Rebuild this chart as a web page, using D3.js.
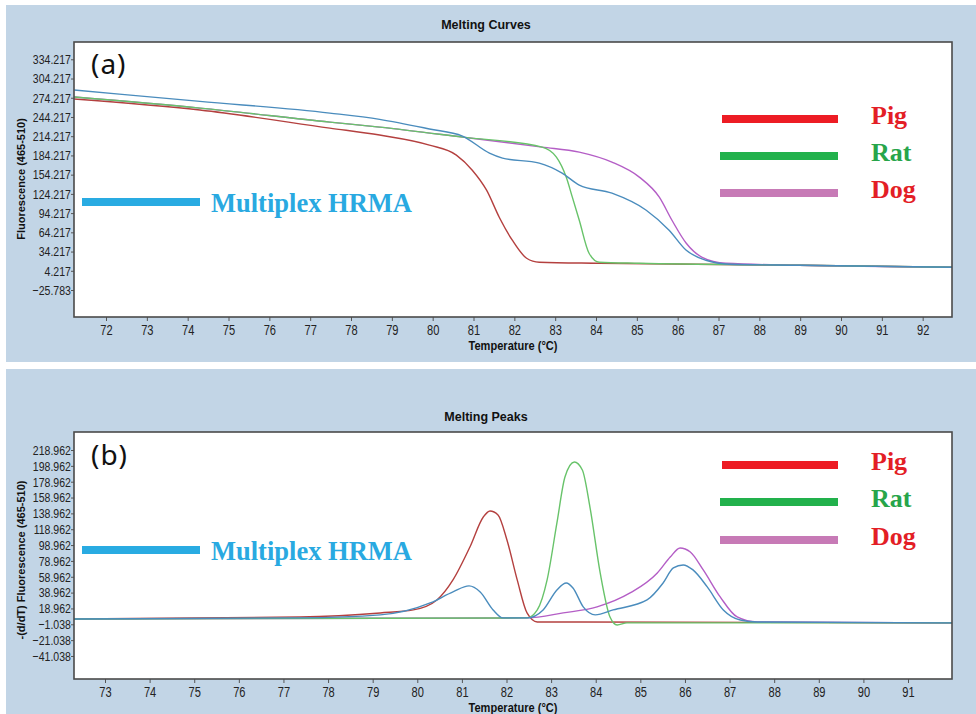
<!DOCTYPE html>
<html>
<head>
<meta charset="utf-8">
<script src="https://cdn.jsdelivr.net/npm/d3@7"></script>
<style>
  body { margin: 0; background: #fff; }
  svg { display: block; }
</style>
</head>
<body>
<svg width="976" height="714"></svg>
<script>
// ---- data (temperature, fluorescence) ----
const curvePig = [[71.22,272.2],[74.3,255],[77.48,226.9],[78.7,216],[79.92,200.3],[80.58,184.7],[80.97,161.2],[81.32,130],[81.63,87.8],[81.95,51.9],[82.3,23.8],[82.61,17.5],[84.08,15.9],[88.97,12.8],[92.72,9.7]];
const curveRat = [[71.22,275.3],[74.3,258],[77.48,236.2],[78.7,228.4],[80.73,212.8],[82.68,197.2],[83.03,181.6],[83.27,150.4],[83.42,119.1],[83.59,83.1],[83.83,31.6],[84.08,17.5],[85.06,15.9],[88.97,12.8],[92.72,9.7]];
const curveDog = [[71.22,275.3],[74.3,258],[77.48,236.2],[78.7,228.4],[80.73,212.8],[82.68,197.2],[83.59,189.4],[84.39,173.8],[85.06,150.4],[85.55,119.1],[85.86,83.1],[86.21,47.2],[86.6,25.3],[87.18,15.9],[88.97,12.8],[92.72,9.7]];
const curveMulti = [[71.22,286.2],[74.3,268.6],[77.48,250.3],[78.7,240.5],[79.92,225.5],[80.73,214.4],[81.39,187.8],[81.71,180],[82.61,172.2],[83.17,156.6],[83.59,137.9],[84.39,125.3],[85.23,98.7],[85.79,67.5],[86.21,36.2],[86.69,20.6],[87.26,14.4],[88.97,12.8],[92.72,9.7]];

// ---- data (temperature, -dF/dT) ----
const peakPig = [[72.3,5.7],[77.37,8.2],[79.17,13.3],[79.91,17.1],[80.44,29.7],[80.8,55],[81.18,96.6],[81.48,134.4],[81.63,142],[81.81,137],[82.01,105.4],[82.24,55],[82.46,13.3],[82.69,1.9],[83.65,1.9],[91.99,0.7]];
const peakRat = [[72.3,5.7],[82.46,7],[82.69,17.1],[82.91,55],[83.13,126.9],[83.31,184.9],[83.52,203.8],[83.7,193.7],[83.87,147],[84.1,63.8],[84.32,8.2],[84.48,-1.9],[84.7,0.7],[91.99,0.7]];
const peakDog = [[72.3,5.7],[82.46,7],[83.27,13.3],[84.03,20.9],[84.77,38.5],[85.38,63.8],[85.67,83.9],[85.89,95.3],[86.12,90.3],[86.41,67.6],[86.79,33.5],[87.17,8.2],[87.62,1.9],[91.99,0.7]];
const peakMulti = [[72.3,5.7],[77.37,7],[79.17,10.8],[80.29,25.9],[80.8,39.8],[81.16,47.4],[81.41,39.8],[81.7,17.1],[81.92,7],[82.46,7],[82.82,17.1],[83.13,42.3],[83.34,51.1],[83.49,44.8],[83.72,20.9],[83.99,10.8],[84.39,17.1],[85.15,29.7],[85.51,51.1],[85.74,70.1],[85.96,73.9],[86.18,67.6],[86.5,46.1],[86.86,17.1],[87.24,4.4],[87.62,1.9],[91.99,0.7]];

// ---- ticks ----
const curveYTicks = [-25.783,4.217,34.217,64.217,94.217,124.217,154.217,184.217,214.217,244.217,274.217,304.217,334.217];
const peakYTicks = [-41.038,-21.038,-1.038,18.962,38.962,58.962,78.962,98.962,118.962,138.962,158.962,178.962,198.962,218.962];
const curveXTicks = [72,73,74,75,76,77,78,79,80,81,82,83,84,85,86,87,88,89,90,91,92];
const peakXTicks = [73,74,75,76,77,78,79,80,81,82,83,84,85,86,87,88,89,90,91];

const legendNames = ['Pig','Rat','Dog'];
const legendLineColors = ['#ed1c24','#22b14c','#c77ab6'];
const legendTextColors = ['#e31e26','#27a54a','#e31e26'];
const seriesColors = {pig:'#b4403f', rat:'#68c36a', dog:'#b45ec6', multi:'#4a8cbd'};

const svg = d3.select('svg');
const sans = '"Liberation Sans", Arial, sans-serif';
const serif = '"Liberation Serif", "Times New Roman", serif';

const panels = [
  {title:'Melting Curves', tag:'(a)', yLabel:'Fluorescence (465-510)',
   box:{x:6,y:5,w:970,h:357}, plot:{l:74,t:42,r:952,b:317},
   xDomain:[71.216,92.718], yDomain:[-67.9,361.2], xTicks:curveXTicks, yTicks:curveYTicks,
   series:[[curvePig,'pig'],[curveDog,'dog'],[curveRat,'rat'],[curveMulti,'multi']],
   legendY:[119,156,193], multiY:202, tagY:74, yLabelY:179},
  {title:'Melting Peaks', tag:'(b)', yLabel:'-(d/dT) Fluorescence (465-510)',
   box:{x:6,y:369,w:970,h:345}, plot:{l:74,t:432,r:952,b:679},
   xDomain:[72.305,91.986], yDomain:[-70.1,241.7], xTicks:peakXTicks, yTicks:peakYTicks,
   series:[[peakPig,'pig'],[peakDog,'dog'],[peakRat,'rat'],[peakMulti,'multi']],
   legendY:[465,502,540], multiY:550, tagY:465, yLabelY:560}
];

panels.forEach((p, i) => {
  const g = svg.append('g');
  g.append('rect')
    .attr('x', p.box.x).attr('y', p.box.y)
    .attr('width', p.box.w).attr('height', p.box.h)
    .attr('fill', '#c2d5e6');

  g.append('text')
    .attr('x', 486).attr('y', p.box.y + (i == 0 ? 24 : 52))
    .attr('text-anchor', 'middle')
    .attr('font-family', sans)
    .attr('font-weight', 'bold').attr('font-size', '12.5px')
    .attr('fill', '#111')
    .text(p.title);

  const x = d3.scaleLinear().domain(p.xDomain).range([p.plot.l, p.plot.r]);
  const y = d3.scaleLinear().domain(p.yDomain).range([p.plot.b, p.plot.t]);

  g.append('rect')
    .attr('x', p.plot.l).attr('y', p.plot.t)
    .attr('width', p.plot.r - p.plot.l).attr('height', p.plot.b - p.plot.t)
    .attr('fill', '#fff');

  const clipId = 'clip' + i;
  g.append('clipPath').attr('id', clipId)
    .append('rect')
    .attr('x', p.plot.l).attr('y', p.plot.t)
    .attr('width', p.plot.r - p.plot.l).attr('height', p.plot.b - p.plot.t);

  // axes
  const yAxis = g.append('g')
    .attr('transform', `translate(${p.plot.l},0)`)
    .call(d3.axisLeft(y).tickValues(p.yTicks).tickFormat(d3.format('.3f')).tickSize(3).tickPadding(1));
  yAxis.select('.domain').remove();
  yAxis.selectAll('line').attr('stroke', '#555');
  yAxis.selectAll('text')
    .attr('font-family', sans).attr('font-size', '13.5px').attr('fill', '#222')
    .attr('transform', 'scale(0.78,1)');

  const xAxis = g.append('g')
    .attr('transform', `translate(0,${p.plot.b})`)
    .call(d3.axisBottom(x).tickValues(p.xTicks).tickFormat(d3.format('d')).tickSize(4).tickPadding(3));
  xAxis.select('.domain').remove();
  xAxis.selectAll('line').attr('stroke', '#555');
  xAxis.selectAll('text')
    .attr('font-family', sans).attr('font-size', '15px').attr('fill', '#222')
    .attr('transform', 'scale(0.74,1)');

  g.append('text')
    .attr('transform', `translate(${(p.plot.l + p.plot.r) / 2},${p.plot.b + 33}) scale(0.82,1)`)
    .attr('text-anchor', 'middle')
    .attr('font-family', sans).attr('font-weight', 'bold').attr('font-size', '13.5px')
    .attr('fill', '#111')
    .text('Temperature (°C)');

  g.append('text')
    .attr('transform', `translate(25,${p.yLabelY}) rotate(-90)`)
    .attr('text-anchor', 'middle')
    .attr('font-family', sans)
    .attr('font-weight', 'bold').attr('font-size', '11px')
    .attr('fill', '#111')
    .text(p.yLabel);

  // curves
  const line = d3.line()
    .x(d => x(d[0]))
    .y(d => y(d[1]))
    .curve(d3.curveMonotoneX);
  g.append('g').attr('clip-path', `url(#${clipId})`)
    .selectAll('path').data(p.series)
    .enter().append('path')
      .attr('d', d => line(d[0]))
      .attr('fill', 'none')
      .attr('stroke', d => seriesColors[d[1]])
      .attr('stroke-width', 1.4);

  // frame
  g.append('rect')
    .attr('x', p.plot.l).attr('y', p.plot.t)
    .attr('width', p.plot.r - p.plot.l).attr('height', p.plot.b - p.plot.t)
    .attr('fill', 'none').attr('stroke', '#4a4a4a').attr('stroke-width', 1.6);

  // panel tag
  g.append('text')
    .attr('x', 91).attr('y', p.tagY)
    .attr('font-family', '"Noto Sans", "DejaVu Sans", sans-serif')
    .attr('font-size', '28px').attr('letter-spacing', '1px').attr('fill', '#111')
    .text(p.tag);

  // multiplex label
  g.append('line')
    .attr('x1', 82).attr('x2', 200).attr('y1', p.multiY).attr('y2', p.multiY)
    .attr('stroke', '#29abe2').attr('stroke-width', 8);
  g.append('text')
    .attr('x', 211).attr('y', p.multiY + 10)
    .attr('font-family', serif).attr('font-weight', 'bold').attr('font-size', '26.5px')
    .attr('fill', '#29a9e1')
    .text('Multiplex HRMA');

  // legend
  const leg = g.selectAll('.leg').data(legendNames)
    .enter().append('g').attr('class', 'leg');
  leg.append('line')
    .attr('x1', (d, k) => k == 0 ? 722 : 720).attr('x2', 838)
    .attr('y1', (d, k) => p.legendY[k]).attr('y2', (d, k) => p.legendY[k])
    .attr('stroke', (d, k) => legendLineColors[k]).attr('stroke-width', 8);
  leg.append('text')
    .attr('x', 871).attr('y', (d, k) => p.legendY[k] + 5)
    .attr('font-family', serif).attr('font-weight', 'bold').attr('font-size', '26px')
    .attr('fill', (d, k) => legendTextColors[k])
    .text(d => d);
});
</script>
</body>
</html>
